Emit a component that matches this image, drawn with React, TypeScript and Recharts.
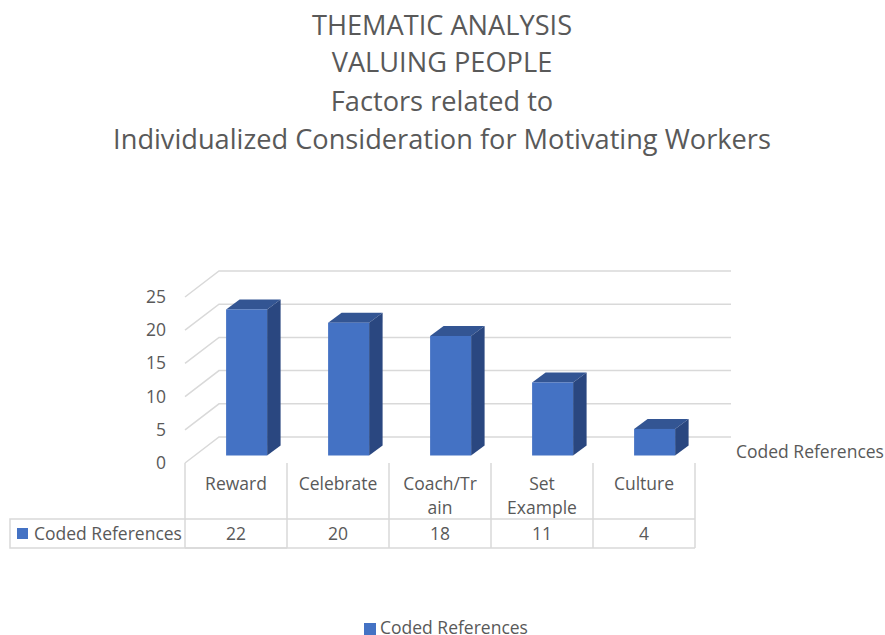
import { Bar, BarChart, CartesianGrid, Legend, XAxis, YAxis } from "recharts";

const categories = ["Reward", "Celebrate", "Coach/Train", "Set Example", "Culture"];
const categoryLines = [["Reward"], ["Celebrate"], ["Coach/Tr", "ain"], ["Set", "Example"], ["Culture"]];
const codedReferences = [22, 20, 18, 11, 4];
const yTicks = [0, 5, 10, 15, 20, 25];
const titleLines = [
  "THEMATIC ANALYSIS",
  "VALUING PEOPLE",
  "Factors related to",
  "Individualized Consideration for Motivating Workers",
];
const titleY = [24, 61, 100, 138];
const seriesName = "Coded References";

const data = categories.map((name, i) => ({ name, value: codedReferences[i], lines: categoryLines[i] }));

const FONT = "'Open Sans', sans-serif";
const TEXT = "#595959";
const GRID = "#D9D9D9";
const BLUE = "#4472C4";
const FONT_SIZE = 17.5;

// depth of the 3d look
const DX = 13.5;
const DY = 10;

function Bar3D({ x, y, width, height }: any) {
  const r = x + width;
  const b = y + height;
  return (
    <g>
      <polygon points={`${x},${y} ${x + DX},${y - DY} ${r + DX},${y - DY} ${r},${y}`} fill="#335593" />
      <polygon points={`${r},${y} ${r + DX},${y - DY} ${r + DX},${b - DY} ${r},${b}`} fill="#2A4780" />
      <rect x={x} y={y} width={width} height={height} fill={BLUE} />
    </g>
  );
}

// wall + side wall line, same y scale as the bars
function GridLine({ y1 }: any) {
  const front = y1 + 7.5;
  const back = y1 - 18.5;
  return <polyline points={`185,${front} 219,${back} 731,${back}`} fill="none" stroke={GRID} strokeWidth={1.5} />;
}

function YTick({ y, payload }: any) {
  return (
    <text x={166} y={y + 6.5} textAnchor="end" dominantBaseline="central" fontFamily={FONT} fontSize={FONT_SIZE} fill={TEXT}>
      {payload.value}
    </text>
  );
}

// category label and data table column under each bar
function TableTick({ x, index }: any) {
  const cx = x - 10.5;
  const left = cx - 51;
  const right = cx + 51;
  const lines = categoryLines[index];
  return (
    <g fontFamily={FONT} fontSize={FONT_SIZE} fill={TEXT}>
      <line x1={right} y1={463} x2={right} y2={548} stroke={GRID} strokeWidth={1.5} />
      <line x1={left} y1={519} x2={right} y2={519} stroke={GRID} strokeWidth={1.5} />
      <line x1={left} y1={548} x2={right} y2={548} stroke={GRID} strokeWidth={1.5} />
      {lines.map((l, i) => (
        <text key={l} x={cx} y={483 + i * 24} textAnchor="middle" dominantBaseline="central">
          {l}
        </text>
      ))}
      <text x={cx} y={533} textAnchor="middle" dominantBaseline="central">
        {codedReferences[index]}
      </text>
      {index === 0 && (
        <g>
          <polyline points={`${left},463 ${left},519 10,519 10,548 ${right},548`} fill="none" stroke={GRID} strokeWidth={1.5} />
          <line x1={left} y1={519} x2={left} y2={548} stroke={GRID} strokeWidth={1.5} />
          <rect x={17} y={528} width={11} height={11} fill={BLUE} />
          <text x={34} y={533} dominantBaseline="central">
            {seriesName}
          </text>
        </g>
      )}
    </g>
  );
}

export default function App() {
  return (
    <div style={{ position: "absolute", left: 0, top: 0, width: 885, height: 635 }}>
      <BarChart
        width={885}
        height={635}
        data={data}
        barCategoryGap="30%"
        margin={{ top: 289.5, right: 179.5, bottom: 63.5, left: 135.5 }}
      >
        <CartesianGrid vertical={false} horizontal={GridLine} />
        <XAxis dataKey="name" height={100} interval={0} axisLine={false} tickLine={false} tick={TableTick} />
        <YAxis width={60} domain={[0, 25]} ticks={yTicks} axisLine={false} tickLine={false} tick={YTick} />
        <Legend
          iconType="square"
          iconSize={12}
          wrapperStyle={{ position: "absolute", left: 341, top: 619, width: 220, height: 16, lineHeight: "16px", fontFamily: FONT, fontSize: FONT_SIZE }}
          formatter={(value) => (
            <span style={{ color: TEXT, display: "inline-block", height: 16, lineHeight: "16px" }}>{value}</span>
          )}
        />
        <Bar dataKey="value" name={seriesName} fill={BLUE} shape={Bar3D} isAnimationActive={false} />
        {titleLines.map((line, i) => (
          <text key={line} x={442} y={titleY[i]} textAnchor="middle" dominantBaseline="central" fontFamily={FONT} fontSize={27.2} fill={TEXT}>
            {line}
          </text>
        ))}
        <text x={736} y={451} dominantBaseline="central" fontFamily={FONT} fontSize={FONT_SIZE} fill={TEXT}>
          {seriesName}
        </text>
      </BarChart>
    </div>
  );
}
